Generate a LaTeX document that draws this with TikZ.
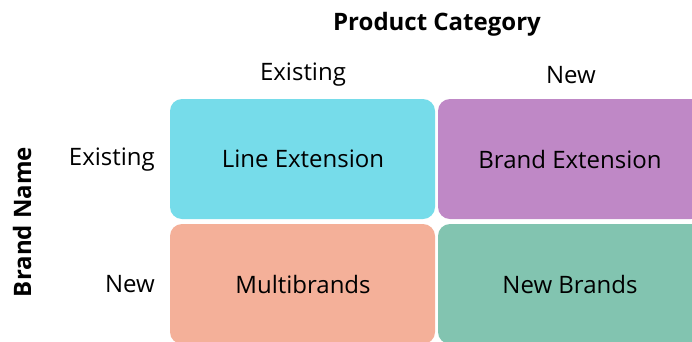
\documentclass[tikz,border=0pt]{standalone}
\usepackage{fontspec}
\setmainfont{Open Sans}
\definecolor{cyanbox}{HTML}{76DCEA}
\definecolor{purplebox}{HTML}{BF88C6}
\definecolor{salmonbox}{HTML}{F4B099}
\definecolor{tealbox}{HTML}{82C4B0}
\begin{document}
\begin{tikzpicture}[x=1bp,y=-1bp,
  cell/.style={rounded corners=12bp, draw=none},
  lbl/.style={font=\fontsize{24bp}{28bp}\selectfont, text=black, inner sep=0pt},
  ttl/.style={font=\fontsize{24bp}{28bp}\selectfont\bfseries, text=black, inner sep=0pt}]
\clip (0,0) rectangle (692,341);
\fill[white] (0,0) rectangle (692,341);
\fill[cell, cyanbox] (170,99) rectangle (435,219);
\fill[cell, purplebox] (438,99) rectangle (703,219);
\fill[cell, salmonbox] (170,224) rectangle (435,344);
\fill[cell, tealbox] (438,224) rectangle (703,344);
\node[lbl] (tl) at (303,159) {Line Extension};
\node[lbl] (tr) at (570,159) {Brand Extension};
\node[lbl] (bl) at (303,284) {Multibrands};
\node[lbl] (br) at (570,284) {New Brands};
\node[ttl] (pc) at (437,24) {Product Category};
\node[lbl] (ce) at (303,75) {Existing};
\node[lbl] (cn) at (571,75) {New};
\node[lbl, anchor=east] (re) at (155,160) {Existing};
\node[lbl, anchor=east] (rn) at (155,284) {New};
\node[ttl, rotate=90] (bn) at (22,222) {Brand Name};
\end{tikzpicture}
\end{document}
